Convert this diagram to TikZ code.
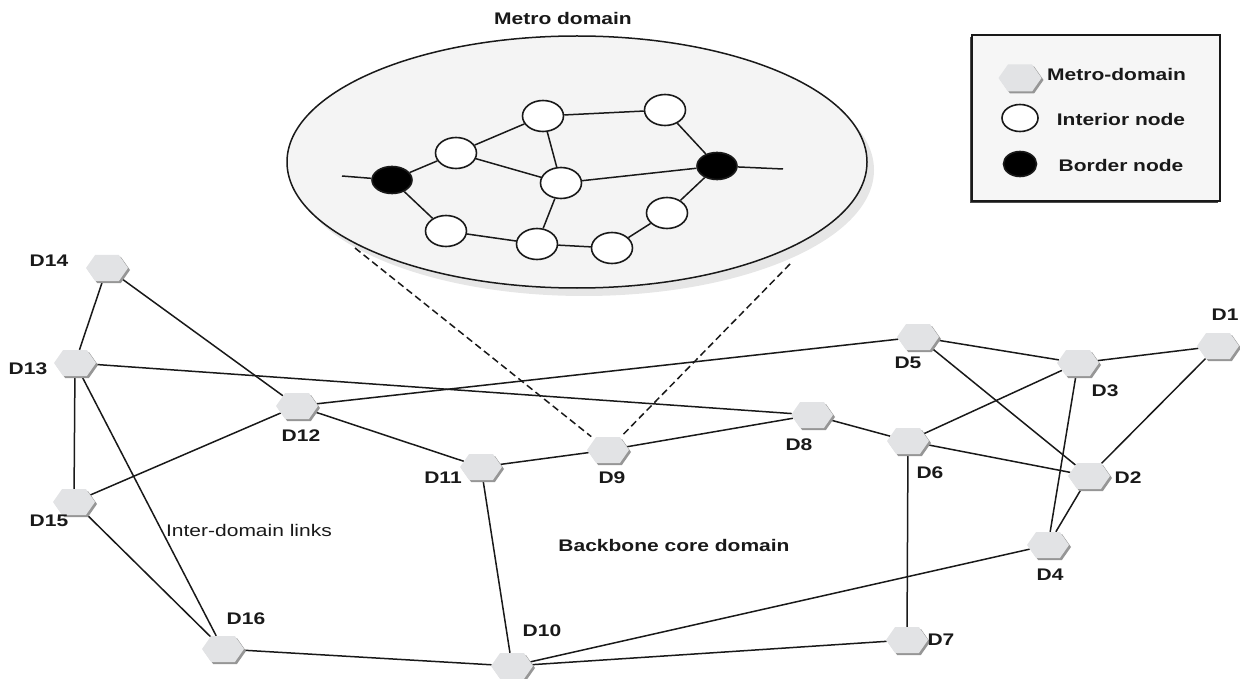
\documentclass[tikz,border=0pt]{standalone}
\usepackage{fontspec}
\setmainfont{Liberation Sans}[FakeStretch=1.25]
\usetikzlibrary{shapes.symbols,shapes.geometric,shadows}
\pgfdeclarelayer{back}
\pgfdeclarelayer{edges}
\pgfsetlayers{back,edges,main}
\definecolor{hexfill}{RGB}{226,227,229}
\definecolor{hexshadow}{RGB}{150,150,150}
\definecolor{ellfill}{RGB}{244,244,244}
\definecolor{ellshadow}{RGB}{230,230,230}
\definecolor{legfill}{RGB}{246,246,246}
\definecolor{ink}{RGB}{25,25,25}
\begin{document}
\begin{tikzpicture}[x=1pt,y=-1pt,
  dom/.style={signal, signal to=west and east, signal pointer angle=110,
    minimum width=42pt, minimum height=26pt, inner sep=0pt, fill=hexfill, draw=none,
    drop shadow={shadow xshift=2pt, shadow yshift=-2pt, fill=hexshadow, opacity=1}},
  lbl/.style={font=\fontsize{16.8}{18}\selectfont\bfseries, text=ink, inner sep=0pt},
  plain/.style={font=\fontsize{16.8}{18}\selectfont, text=ink, inner sep=0pt},
  link/.style={line width=1.5pt, draw=ink},
  inode/.style={ellipse, draw=ink, line width=1.6pt, fill=white,
    minimum width=41pt, minimum height=31pt, inner sep=0pt},
  bnode/.style={ellipse, draw=ink, line width=1.6pt, fill=black,
    minimum width=40pt, minimum height=27pt, inner sep=0pt},
  zoomlink/.style={line width=1.5pt, draw=ink, dash pattern=on 7pt off 4pt}
]
\useasboundingbox (0,0) rectangle (1240,679);

% ---------- metro domain ellipse ----------
\begin{pgfonlayer}{back}
\node[ellipse, draw=ink, line width=1.5pt, fill=ellfill, minimum width=580pt, minimum height=252pt,
  inner sep=0pt, drop shadow={shadow xshift=7pt, shadow yshift=-8pt, fill=ellshadow, opacity=1}]
  (metro) at (577,162) {};
\end{pgfonlayer}
\node[lbl] (metrotitle) at (563,18) {Metro domain};

\node[bnode] (b1) at (392,180) {};
\node[bnode] (b2) at (717,166) {};
\node[inode] (na) at (456,153) {};
\node[inode] (nb) at (446,231) {};
\node[inode] (nd) at (543,116) {};
\node[inode] (ne) at (665,110) {};
\node[inode] (nf) at (561,183) {};
\node[inode] (nh) at (667,213) {};
\node[inode] (ni) at (612,248) {};
\node[inode] (nc) at (537,244) {};
\coordinate (stubl) at (342,176);
\coordinate (stubr) at (783,169);

\begin{pgfonlayer}{edges}
\draw[link] (stubl) -- (b1);
\draw[link] (b1) -- (na);
\draw[link] (b1) -- (nb);
\draw[link] (na) -- (nd);
\draw[link] (na) -- (nf);
\draw[link] (nd) -- (ne);
\draw[link] (nd) -- (nf);
\draw[link] (nf) -- (b2);
\draw[link] (nf) -- (nc);
\draw[link] (nb) -- (nc);
\draw[link] (nc) -- (ni);
\draw[link] (ni) -- (nh);
\draw[link] (nh) -- (b2);
\draw[link] (ne) -- (b2);
\draw[link] (b2) -- (stubr);
\end{pgfonlayer}

% ---------- legend ----------
\node[draw=ink, fill=legfill, line width=1.5pt, minimum width=248pt, minimum height=166pt, inner sep=0pt,
  drop shadow={shadow xshift=-2.5pt, shadow yshift=-2.5pt, fill=black!70, opacity=1}]
  (legend) at (1096,118) {};
\node[dom, minimum width=43pt, minimum height=27pt] (lhex) at (1020,78) {};
\node[lbl, anchor=west] (lhext) at (1047,74.5) {Metro-domain};
\node[inode, minimum width=36pt, minimum height=27pt] (lint) at (1020,118) {};
\node[lbl] (lintt) at (1121,119) {Interior node};
\node[bnode, minimum width=33pt, minimum height=25pt] (lbor) at (1020,164) {};
\node[lbl] (lbort) at (1121,165) {Border node};

% ---------- backbone domains ----------
\node[dom] (D1) at (1218,346) {};
\node[dom] (D2) at (1089,476) {};
\node[dom] (D3) at (1078,363) {};
\node[dom] (D4) at (1048,545) {};
\node[dom] (D5) at (918,337) {};
\node[dom] (D6) at (908,441) {};
\node[dom] (D7) at (907,640) {};
\node[dom] (D8) at (812,415) {};
\node[dom] (D9) at (608,450) {};
\node[dom] (D10) at (512,666) {};
\node[dom] (D11) at (481,467) {};
\node[dom] (D12) at (297,406) {};
\node[dom] (D13) at (75,363) {};
\node[dom] (D14) at (107,268) {};
\node[dom] (D15) at (74,502) {};
\node[dom] (D16) at (223,649) {};

\node[lbl] (t1) at (1225,315) {D1};
\node[lbl] (t2) at (1128,478) {D2};
\node[lbl] (t3) at (1105,391) {D3};
\node[lbl] (t4) at (1050,575) {D4};
\node[lbl] (t5) at (908,363) {D5};
\node[lbl] (t6) at (930,473) {D6};
\node[lbl] (t7) at (941,640) {D7};
\node[lbl] (t8) at (799,445) {D8};
\node[lbl] (t9) at (612,478) {D9};
\node[lbl] (t10) at (542,631) {D10};
\node[lbl] (t11) at (443,478) {D11};
\node[lbl] (t12) at (301,436) {D12};
\node[lbl] (t13) at (28,369) {D13};
\node[lbl] (t14) at (49,261) {D14};
\node[lbl] (t15) at (49,521) {D15};
\node[lbl] (t16) at (246,619) {D16};
\node[plain] (idl) at (249,530) {Inter-domain links};
\node[lbl] (bcd) at (674,545) {Backbone core domain};

\coordinate (ml) at (355,248);
\coordinate (mr) at (790,264);

\begin{pgfonlayer}{edges}
\draw[link] (D14) -- (D13);
\draw[link] (D14) -- (D12);
\draw[link] (D13) -- (D8);
\draw[link] (D13) -- (D15);
\draw[link] (D13) -- (D16);
\draw[link] (D12) -- (D5);
\draw[link] (D12) -- (D11);
\draw[link] (D12) -- (D15);
\draw[link] (D15) -- (D16);
\draw[link] (D16) -- (D10);
\draw[link] (D11) -- (D9);
\draw[link] (D11) -- (D10);
\draw[link] (D9) -- (D8);
\draw[link] (D8) -- (D6);
\draw[link] (D6) -- (D3);
\draw[link] (D6) -- (D2);
\draw[link] (D6) -- (D7);
\draw[link] (D5) -- (D3);
\draw[link] (D5) -- (D2);
\draw[link] (D3) -- (D1);
\draw[link] (D3) -- (D4);
\draw[link] (D1) -- (D2);
\draw[link] (D2) -- (D4);
\draw[link] (D4) -- (D10);
\draw[link] (D7) -- (D10);
\draw[zoomlink, shorten >=4pt] (ml) -- (D9);
\draw[zoomlink, shorten >=4pt] (mr) -- (D9);
\end{pgfonlayer}
\end{tikzpicture}
\end{document}
